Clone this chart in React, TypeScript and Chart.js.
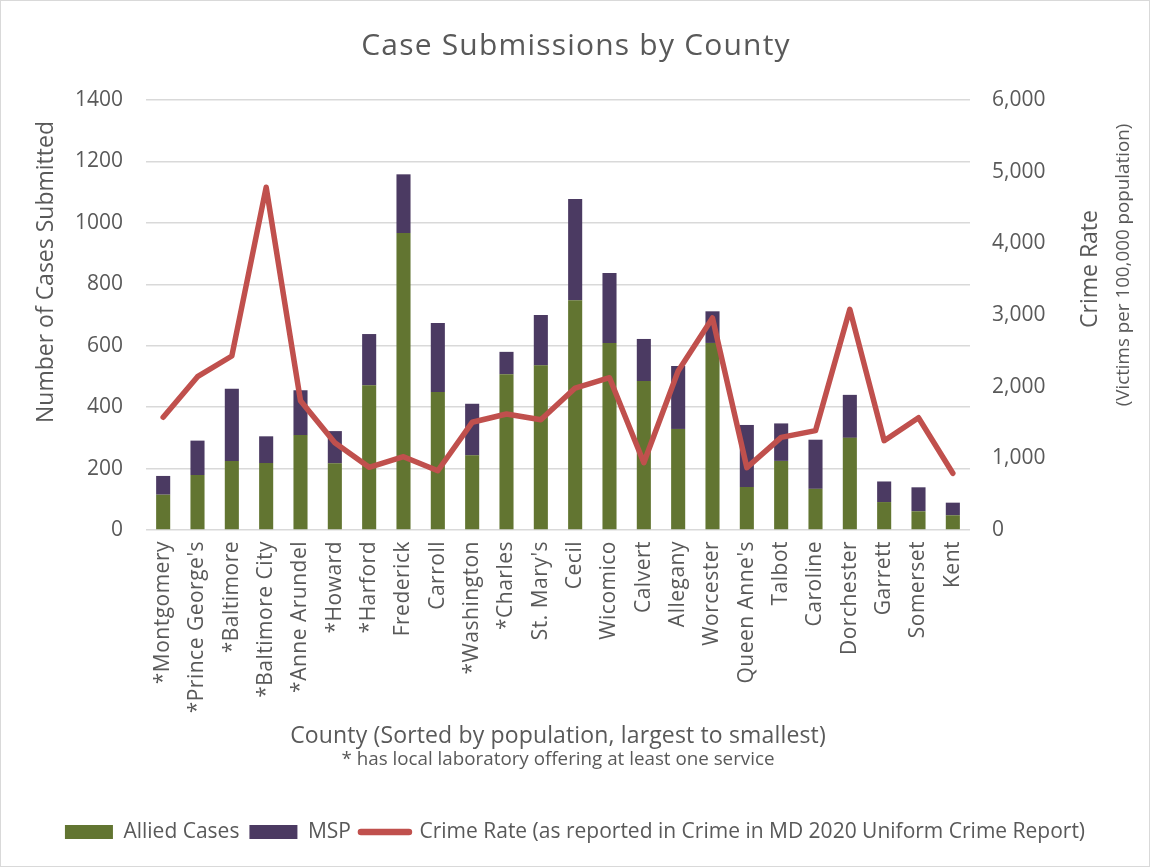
import React, { useEffect, useRef } from "react";
import { Chart, registerables } from "chart.js";

Chart.register(...registerables);

const counties = [
  "*Montgomery", "*Prince George's", "*Baltimore", "*Baltimore City", "*Anne Arundel",
  "*Howard", "*Harford", "Frederick", "Carroll", "*Washington", "*Charles", "St. Mary's",
  "Cecil", "Wicomico", "Calvert", "Allegany", "Worcester", "Queen Anne's", "Talbot",
  "Caroline", "Dorchester", "Garrett", "Somerset", "Kent",
];
const alliedCases = [115, 179, 225, 218, 309, 217, 471, 967, 449, 243, 507, 536, 748, 609, 485, 329, 609, 140, 225, 134, 300, 91, 61, 48];
const mspCases = [61, 112, 235, 87, 146, 105, 167, 191, 225, 168, 73, 164, 330, 228, 137, 205, 103, 202, 122, 160, 140, 67, 78, 41];
const crimeRate = [1573, 2139, 2428, 4782, 1804, 1218, 875, 1023, 827, 1503, 1619, 1539, 1981, 2125, 939, 2218, 2958, 870, 1293, 1386, 3079, 1246, 1567, 791];

const chartTitle = "Case Submissions by County";
const leftAxisTitle = "Number of Cases Submitted";
const rightAxisTitle = "Crime Rate";
const rightAxisSubtitle = "(Victims per 100,000 population)";
const xAxisTitle = "County (Sorted by population, largest to smallest)";
const xAxisSubtitle = "* has local laboratory offering at least one service";
const seriesNames = ["Allied Cases", "MSP", "Crime Rate (as reported in Crime in MD 2020 Uniform Crime Report)"];

const FONT = "'Open Sans', sans-serif";
const TEXT = "#595959";
const GREEN = "#627531";
const PURPLE = "#4B3A62";
const RED = "#C0504D";
const GRID = "#d9d9d9";

function drawText(
  ctx: CanvasRenderingContext2D,
  text: string,
  x: number,
  y: number,
  size: number,
  rotate: boolean,
  spacing = 0
) {
  ctx.save();
  ctx.translate(x, y);
  if (rotate) ctx.rotate(-Math.PI / 2);
  ctx.font = `${size}px ${FONT}`;
  (ctx as any).letterSpacing = `${spacing}px`;
  ctx.fillStyle = TEXT;
  ctx.textAlign = "center";
  ctx.textBaseline = "alphabetic";
  ctx.fillText(text, 0, 0);
  ctx.restore();
}

const textPlugin = {
  id: "customTexts",
  beforeDraw(chart: any) {
    const xs = chart.scales.x;
    if (xs && !xs.__spaced) {
      const orig = xs.drawLabels;
      xs.drawLabels = function (area: any) {
        const ctx = chart.ctx as any;
        const prev = ctx.letterSpacing;
        ctx.letterSpacing = "0.5px";
        orig.call(this, area);
        ctx.letterSpacing = prev || "0px";
      };
      xs.__spaced = true;
    }
  },
  afterDraw(chart: any) {
    const ctx = chart.ctx as CanvasRenderingContext2D;
    const area = chart.chartArea;
    const cx = (area.left + area.right) / 2;
    drawText(ctx, chartTitle, 575, 54, 30, false, 1.2);
    drawText(ctx, leftAxisTitle, 52, 271, 23, true);
    drawText(ctx, rightAxisTitle, 1096, 268, 23, true);
    drawText(ctx, rightAxisSubtitle, 1128, 264, 18.8, true);
    drawText(ctx, xAxisTitle, cx, 742, 23, false, 0.15);
    drawText(ctx, xAxisSubtitle, cx, 764, 18.8, false);
  },
};

export default function App() {
  const canvasRef = useRef<HTMLCanvasElement | null>(null);

  useEffect(() => {
    document.body.style.margin = "0";
    const canvas = canvasRef.current;
    if (!canvas) return;
    const chart = new Chart(canvas, {
      type: "bar",
      data: {
        labels: counties,
        datasets: [
          {
            type: "line",
            label: seriesNames[2],
            data: crimeRate,
            yAxisID: "y1",
            borderColor: RED,
            backgroundColor: RED,
            borderWidth: 5.5,
            pointRadius: 0,
            borderJoinStyle: "round",
            borderCapStyle: "round",
            tension: 0,
            order: 0,
          } as any,
          {
            type: "bar",
            label: seriesNames[0],
            data: alliedCases,
            backgroundColor: GREEN,
            yAxisID: "y",
            stack: "s",
            order: 1,
            barPercentage: 0.41,
            categoryPercentage: 1,
          },
          {
            type: "bar",
            label: seriesNames[1],
            data: mspCases,
            backgroundColor: PURPLE,
            yAxisID: "y",
            stack: "s",
            order: 1,
            barPercentage: 0.41,
            categoryPercentage: 1,
          },
        ],
      },
      options: {
        animation: false,
        responsive: false,
        maintainAspectRatio: false,
        layout: { padding: { left: 0, right: 0, top: 99, bottom: 13.5 } },
        plugins: {
          tooltip: { enabled: false },
          title: { display: false },
          legend: {
            position: "bottom",
            labels: {
              color: TEXT,
              font: { family: FONT, size: 21 },
              usePointStyle: true,
              pointStyleWidth: 48,
              boxHeight: 14,
              padding: 10,
              generateLabels: () => [
                { text: seriesNames[0], fillStyle: GREEN, strokeStyle: GREEN, lineWidth: 0, pointStyle: "rect", datasetIndex: 1, hidden: false, fontColor: TEXT },
                { text: seriesNames[1], fillStyle: PURPLE, strokeStyle: PURPLE, lineWidth: 0, pointStyle: "rect", datasetIndex: 2, hidden: false, fontColor: TEXT },
                { text: seriesNames[2], fillStyle: RED, strokeStyle: RED, lineWidth: 6.5, lineCap: "round", pointStyle: "line", datasetIndex: 0, hidden: false, fontColor: TEXT },
              ] as any,
            },
          },
        },
        scales: {
          x: {
            stacked: true,
            grid: { display: false, drawTicks: false },
            border: { display: false },
            ticks: {
              color: TEXT,
              font: { family: FONT, size: 21 },
              minRotation: 90,
              maxRotation: 90,
              autoSkip: false,
              padding: 11,
            },
            afterFit(scale: any) {
              scale.height = 281.5;
            },
          },
          y: {
            position: "left",
            stacked: true,
            min: 0,
            max: 1400,
            grid: { color: GRID, lineWidth: 1.5, drawTicks: false },
            border: { display: false },
            ticks: {
              stepSize: 200,
              color: TEXT,
              font: { family: FONT, size: 21 },
              padding: 23,
              callback: (v: any) => String(v),
            },
            afterFit(scale: any) {
              scale.width = 145;
            },
          },
          y1: {
            position: "right",
            min: 0,
            max: 6000,
            grid: { drawOnChartArea: false, drawTicks: false },
            border: { display: false },
            ticks: {
              stepSize: 1000,
              color: TEXT,
              font: { family: FONT, size: 21 },
              padding: 22,
              callback: (v: any) => Number(v).toLocaleString("en-US"),
            },
            afterFit(scale: any) {
              scale.width = 179;
            },
          },
        },
      },
      plugins: [textPlugin],
    });
    return () => chart.destroy();
  }, []);

  return (
    <div
      style={{
        position: "absolute",
        left: 0,
        top: 0,
        width: 1150,
        height: 867,
        boxSizing: "border-box",
        border: "1px solid #d9d9d9",
        background: "#fff",
      }}
    >
      <canvas ref={canvasRef} width={1148} height={865} style={{ display: "block" }} />
    </div>
  );
}
